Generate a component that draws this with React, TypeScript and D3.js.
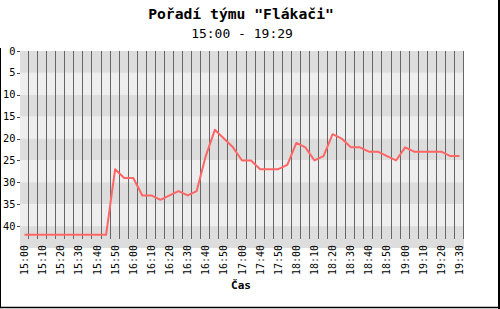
import React from "react";
import * as d3 from "d3";

const TITLE = "Pořadí týmu \"Flákači\"";
const SUBTITLE = "15:00 - 19:29";
const X_TITLE = "Čas";

// one category per sample (every 5 minutes, no samples between 17:05 and 17:40)
const categories = [
  "15:00", "15:05", "15:10", "15:15", "15:20", "15:25", "15:30", "15:35", "15:40", "15:45",
  "15:50", "15:55", "16:00", "16:05", "16:10", "16:15", "16:20", "16:25", "16:30", "16:35",
  "16:40", "16:45", "16:50", "16:55", "17:00", "17:05", "17:40", "17:45", "17:50", "17:55",
  "18:00", "18:05", "18:10", "18:15", "18:20", "18:25", "18:30", "18:35", "18:40", "18:45",
  "18:50", "18:55", "19:00", "19:05", "19:10", "19:15", "19:20", "19:25", "19:30",
];
const ranks = [
  42, 42, 42, 42, 42, 42, 42, 42, 42, 42,
  27, 29, 29, 33, 33, 34, 33, 32, 33, 32,
  24, 18, 20, 22, 25, 25, 27, 27, 27, 26,
  21, 22, 25, 24, 19, 20, 22, 22, 23, 23,
  24, 25, 22, 23, 23, 23, 23, 24, 24,
];
const labelInterval = 2;
const yTicks = [0, 5, 10, 15, 20, 25, 30, 35, 40];

export default function App() {
  const W = 500, H = 309;
  const plotL = 20, plotR = 464, plotT = 51, plotB = 248;
  const gridB = 239;
  const idx = d3.range(categories.length);
  const x = d3.scaleBand<number>().domain(idx).range([plotL, plotR]);
  const cx = (i: number) => (x(i) as number) + x.bandwidth() / 2;
  const y = d3.scaleLinear().domain([0, 45]).range([plotT, plotB]);
  const mono = "'DejaVu Sans Mono', monospace";

  const bands = d3.range(0, 45, 5);
  const line = d3
    .line<number>()
    .x((_, i) => cx(i))
    .y((d) => y(d));

  return (
    <svg width={W} height={H} style={{ position: "absolute", left: 0, top: 0 }}>
      <rect x={0} y={0} width={W} height={H} fill="#ffffff" />
      <text x={241} y={18.5} textAnchor="middle" fontFamily={mono} fontWeight="bold" fontSize={14.7} fill="#000">
        {TITLE}
      </text>
      <text x={242} y={38} textAnchor="middle" fontFamily={mono} fontSize={13} fill="#000">
        {SUBTITLE}
      </text>
      {bands.map((b, i) => (
        <rect
          key={b}
          x={plotL}
          y={y(b)}
          width={plotR - plotL}
          height={y(b + 5) - y(b)}
          fill={i % 2 === 0 ? "#dddddd" : "#eeeeee"}
        />
      ))}
      {idx.map((i) => {
        const gx = Math.round((x(i) as number) + x.bandwidth()) - 0.5;
        return <line key={i} x1={gx} x2={gx} y1={plotT} y2={gridB} stroke="#666666" strokeWidth={1} />;
      })}
      {yTicks.map((t) => (
        <g key={t}>
          <line x1={17} x2={plotL} y1={Math.round(y(t)) + 0.5} y2={Math.round(y(t)) + 0.5} stroke="#444" />
          <text x={15.5} y={y(t) + 3.5} textAnchor="end" fontFamily={mono} fontSize={10.3} fill="#000">
            {t}
          </text>
        </g>
      ))}
      <path d={line(ranks) || ""} fill="none" stroke="#ff6666" strokeWidth={2} strokeLinejoin="round" />
      {categories.map((l, i) =>
        i % labelInterval === 0 ? (
          <text
            key={i}
            transform={`translate(${cx(i) + 3.5},245) rotate(-90)`}
            textAnchor="end"
            fontFamily={mono}
            fontSize={10}
            fill="#000"
          >
            {l}
          </text>
        ) : null
      )}
      <text x={241} y={289} textAnchor="middle" fontFamily={mono} fontWeight="bold" fontSize={11} fill="#000">
        {X_TITLE}
      </text>
      <line x1={0.5} x2={0.5} y1={48} y2={308} stroke="#000" strokeWidth={1} />
      <line x1={0} x2={500} y1={307.5} y2={307.5} stroke="#000" strokeWidth={1.5} />
      <line x1={499} x2={499} y1={0} y2={309} stroke="#000" strokeWidth={2} />
    </svg>
  );
}
